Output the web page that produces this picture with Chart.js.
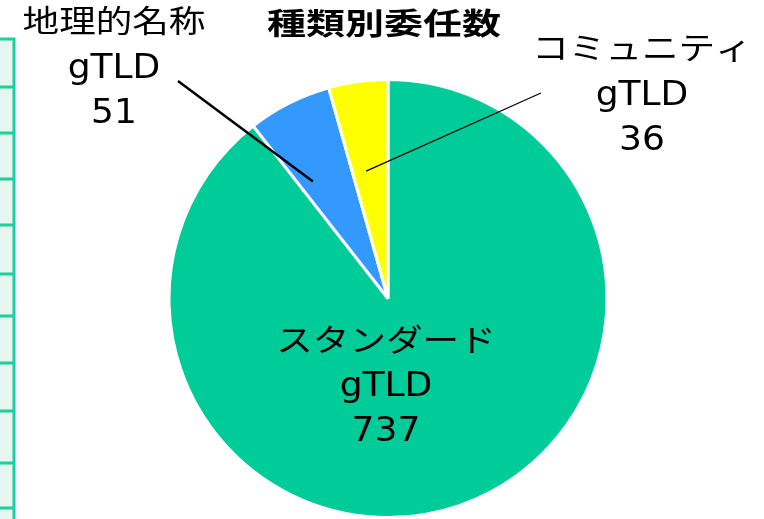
<!DOCTYPE html>
<html lang="ja">
<head>
<meta charset="UTF-8">
<title>種類別委任数</title>
<script src="https://cdn.jsdelivr.net/npm/chart.js@4.4.0/dist/chart.umd.min.js"></script>
<style>
  html, body { margin: 0; padding: 0; background: #fff; }
  #wrap { position: relative; width: 764px; height: 519px; }
</style>
</head>
<body>
<div id="wrap"><canvas id="pieChart"></canvas></div>
<script>
  // データ
  const chartTitle = '種類別委任数';
  const categories = ['スタンダード', '地理的名称', 'コミュニティ'];
  const suffix = 'gTLD';
  const counts = [737, 51, 36];
  const sliceColors = ['#00CC99', '#3399FF', '#FFFF00'];

  const textFont = '"DejaVu Sans", "Noto Sans CJK JP", sans-serif';
  const lineGap = 45;

  // ラベル配置 (外側ラベルは固定位置, 引出線は扇形の内側へ)
  const labelPlacement = [
    { inside: true, dx: -2, dy: 44 },
    { x: 114, y: 24, from: [178, 81], t: 0.24, r: 0.635, lw: 2.5 },
    { x: 642, y: 51, from: [541, 93], t: 0.38, r: 0.59, lw: 1.2 }
  ];

  // 左端の表の枠 (装飾)
  const tableRows = [39, 87, 133, 179, 225, 274, 316, 363, 411, 463, 508];

  // 横に少し広げた文字を描く
  function wideText(ctx, text, x, y, font, sx) {
    ctx.save();
    ctx.font = font;
    ctx.translate(x, y);
    ctx.scale(sx, 1);
    ctx.fillText(text, 0, 0);
    ctx.restore();
  }

  const decorPlugin = {
    id: 'decor',
    beforeDraw(chart) {
      const ctx = chart.ctx;
      ctx.save();
      ctx.fillStyle = '#E6F5EF';
      ctx.fillRect(0, tableRows[0], 14, chart.height - tableRows[0]);
      ctx.strokeStyle = '#1CCF9F';
      ctx.lineWidth = 3;
      ctx.beginPath();
      ctx.moveTo(14, tableRows[0] - 1.5);
      ctx.lineTo(14, chart.height);
      tableRows.forEach(y => { ctx.moveTo(0, y); ctx.lineTo(15.5, y); });
      ctx.stroke();
      ctx.restore();
    },
    afterDraw(chart) {
      const ctx = chart.ctx;
      ctx.save();
      ctx.fillStyle = '#000';
      ctx.textAlign = 'center';
      ctx.textBaseline = 'middle';

      // タイトル
      wideText(ctx, chartTitle, 384, 26, 'bold 30px ' + textFont, 1.3);

      const arcs = chart.getDatasetMeta(0).data;
      arcs.forEach((arc, i) => {
        const p = labelPlacement[i];
        const a = arc.getProps(['x', 'y', 'startAngle', 'endAngle', 'outerRadius'], true);
        let bx, by;
        if (p.inside) {
          bx = a.x + p.dx;
          by = a.y + p.dy;
        } else {
          bx = p.x;
          by = p.y;
          const ang = a.startAngle + p.t * (a.endAngle - a.startAngle);
          const ex = a.x + Math.cos(ang) * a.outerRadius * p.r;
          const ey = a.y + Math.sin(ang) * a.outerRadius * p.r;
          ctx.strokeStyle = '#000';
          ctx.lineWidth = p.lw;
          ctx.beginPath();
          ctx.moveTo(p.from[0], p.from[1]);
          ctx.lineTo(ex, ey);
          ctx.stroke();
        }
        wideText(ctx, categories[i], bx, by, '31px ' + textFont, 1.18);
        wideText(ctx, suffix, bx, by + lineGap, '34px ' + textFont, 1.06);
        wideText(ctx, String(counts[i]), bx, by + lineGap * 2, '34px ' + textFont, 1.06);
      });
      ctx.restore();
    }
  };

  new Chart(document.getElementById('pieChart').getContext('2d'), {
    type: 'pie',
    data: {
      labels: categories,
      datasets: [{
        data: counts,
        backgroundColor: sliceColors,
        borderColor: '#ffffff',
        borderWidth: 3
      }]
    },
    options: {
      responsive: true,
      maintainAspectRatio: false,
      animation: false,
      layout: { padding: { top: 78, left: 12, right: 0, bottom: -2 } },
      plugins: {
        legend: { display: false },
        tooltip: { enabled: false },
        title: { display: false }
      }
    },
    plugins: [decorPlugin]
  });
</script>
</body>
</html>
